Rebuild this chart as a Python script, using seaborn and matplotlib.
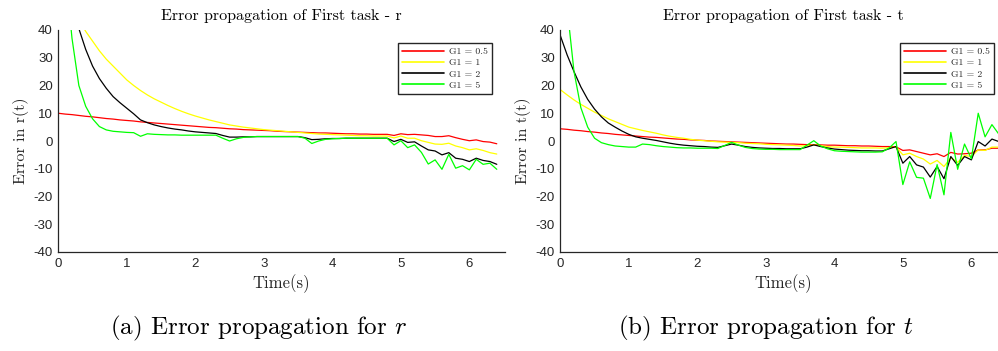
import numpy as np
import pandas as pd
import matplotlib
matplotlib.use("Agg")
import matplotlib.pyplot as plt
import seaborn as sns

# ---------------- data ----------------
time = [round(0.1 * i, 1) for i in range(65)]  # 0.0 ... 6.4 s
gains = ["G1 = 0.5", "G1 = 1", "G1 = 2", "G1 = 5"]
colors = ["#ff0000", "#ffff00", "#000000", "#00ff00"]

# panel (a): error in r(t)
r_g05 = [10.0, 9.7, 9.5, 9.2, 8.9, 8.7, 8.4, 8.1, 7.9, 7.6, 7.4, 7.2, 6.9, 6.7, 6.5, 6.3,
         6.1, 5.9, 5.7, 5.5, 5.3, 5.1, 4.9, 4.8, 4.6, 4.4, 4.3, 4.1, 4.0, 3.9, 3.8, 3.7,
         3.5, 3.4, 3.3, 3.2, 3.1, 3.0, 2.9, 2.9, 2.8, 2.7, 2.6, 2.6, 2.5, 2.5, 2.4, 2.4,
         2.4, 2.0, 2.6, 2.3, 2.4, 2.2, 2.0, 1.6, 1.6, 1.9, 1.2, 0.6, 0.1, 0.4, -0.2, -0.4, -1.0]
r_g1 = [59, 53, 48, 43.5, 39.5, 36, 32.5, 29.5, 27, 24.5, 22, 20, 18.2, 16.6, 15.2, 14,
        12.8, 11.7, 10.7, 9.8, 9.0, 8.3, 7.6, 7.0, 6.4, 5.8, 5.4, 5.0, 4.7, 4.4, 4.1, 3.9,
        3.7, 3.5, 3.3, 3.1, 2.9, 2.7, 2.5, 2.4, 2.3, 2.2, 2.1, 2.0, 1.9, 1.9, 1.8, 1.8,
        1.8, 1.1, 1.8, 1.0, 1.0, 0.1, -0.5, -1.1, -1.2, -0.8, -1.8, -2.4, -3.2, -2.8, -3.4, -4.2, -4.7]
r_g2 = [74, 60, 49, 40.5, 33, 27, 22.5, 19, 16, 13.8, 11.8, 9.8, 7.6, 6.6, 5.8, 5.2,
        4.7, 4.3, 4.0, 3.6, 3.3, 3.1, 2.9, 2.7, 2.0, 1.4, 1.4, 1.5, 1.5, 1.6, 1.6, 1.6,
        1.6, 1.6, 1.6, 1.6, 1.2, 0.5, 0.6, 0.8, 0.9, 0.9, 1.0, 1.0, 1.0, 1.0, 1.0, 1.0,
        1.0, -0.2, 0.6, -0.5, -0.3, -1.8, -3.2, -3.6, -5.0, -4.2, -6.2, -6.6, -7.4, -6.2, -7.0, -7.4, -8.4]
r_g5 = [85, 62, 37, 20, 12.5, 8.0, 5.2, 4.0, 3.5, 3.3, 3.1, 3.0, 1.7, 2.6, 2.4, 2.3,
        2.2, 2.2, 2.1, 2.1, 2.1, 2.1, 2.1, 2.1, 1.0, 0.0, 0.8, 1.3, 1.5, 1.6, 1.6, 1.6,
        1.6, 1.6, 1.6, 1.6, 1.0, -0.9, 0.0, 0.6, 0.8, 0.9, 1.0, 1.0, 1.0, 1.0, 1.0, 1.0,
        1.0, -1.4, 0.1, -2.4, -1.4, -4.1, -8.3, -6.8, -10.2, -4.8, -9.8, -8.9, -10.4, -6.6, -8.4, -8.0, -10.2]

# panel (b): error in t(t)
t_g05 = [4.4, 4.2, 3.9, 3.7, 3.4, 3.2, 2.9, 2.7, 2.4, 2.2, 2.0, 1.8, 1.6, 1.4, 1.3, 1.1,
         0.9, 0.7, 0.6, 0.4, 0.3, 0.2, 0.0, -0.1, -0.2, -0.3, -0.4, -0.5, -0.6, -0.7, -0.8, -0.9,
         -1.0, -1.1, -1.1, -1.2, -1.3, -1.3, -1.4, -1.5, -1.5, -1.6, -1.7, -1.7, -1.8, -1.8, -1.9, -2.0,
         -2.0, -2.1, -3.4, -3.2, -3.8, -4.4, -5.0, -4.6, -5.6, -4.1, -4.7, -4.6, -4.4, -3.2, -3.2, -2.6, -2.6]
t_g1 = [18.5, 16.6, 14.8, 13.2, 11.8, 10.4, 9.2, 8.0, 7.0, 6.0, 5.0, 4.4, 3.8, 3.3, 2.8, 2.2,
        1.7, 1.3, 1.0, 0.6, 0.3, 0.1, -0.1, -0.3, -0.4, -0.5, -0.6, -0.8, -0.9, -1.0, -1.2, -1.3,
        -1.4, -1.5, -1.6, -1.8, -1.7, -1.4, -1.7, -2.0, -2.2, -2.2, -2.3, -2.4, -2.5, -2.5, -2.5, -2.6,
        -2.4, -2.1, -5.0, -4.4, -5.6, -6.5, -8.3, -7.0, -9.2, -6.0, -7.7, -5.2, -5.6, -3.2, -3.4, -2.2, -2.2]
t_g2 = [38, 31, 25, 19.5, 15, 11.5, 8.7, 6.5, 5.0, 3.6, 2.4, 1.5, 1.0, 0.6, 0.2, -0.3,
        -0.8, -1.2, -1.5, -1.7, -1.9, -2.0, -2.2, -2.3, -1.7, -1.1, -1.5, -2.0, -2.3, -2.5, -2.6, -2.7,
        -2.7, -2.8, -2.8, -2.8, -2.2, -1.4, -2.0, -2.5, -2.9, -3.1, -3.3, -3.4, -3.5, -3.5, -3.6, -3.6,
        -2.8, -2.0, -8.0, -5.6, -8.6, -9.4, -13.0, -9.2, -13.6, -5.6, -8.8, -5.6, -6.8, -0.2, -1.8, 0.7, -0.2]
t_g5 = [70, 48, 25, 12, 5.0, 1.0, -0.6, -1.3, -1.8, -2.0, -2.2, -2.2, -1.1, -1.3, -1.7, -2.0,
        -2.2, -2.4, -2.5, -2.5, -2.6, -2.6, -2.6, -2.7, -1.6, -0.5, -1.5, -2.3, -2.7, -2.9, -3.0, -3.0,
        -3.1, -3.1, -3.1, -3.1, -1.5, 0.1, -1.8, -2.8, -3.5, -3.7, -3.8, -3.9, -4.0, -4.0, -4.0, -3.9,
        -2.5, -0.2, -15.7, -7.5, -13.1, -13.4, -20.7, -8.5, -19.4, 3.1, -10.2, -1.1, -6.4, 10.0, 1.5, 5.9, 2.5]

x_ticks = [0, 1, 2, 3, 4, 5, 6]
y_ticks = [-40, -30, -20, -10, 0, 10, 20, 30, 40]

panels = [
    ("Error propagation of First task - r", "Error in r(t)", [r_g05, r_g1, r_g2, r_g5],
     "(a) Error propagation for $r$"),
    ("Error propagation of First task - t", "Error in t(t)", [t_g05, t_g1, t_g2, t_g5],
     "(b) Error propagation for $t$"),
]

# ---------------- style ----------------
sns.set_theme(style="white")
plt.rcParams["font.family"] = ["Liberation Sans", "DejaVu Sans"]
plt.rcParams["mathtext.fontset"] = "cm"
plt.rcParams["axes.unicode_minus"] = False
SERIF = ["cmr10", "DejaVu Serif"]
AX_COL = "#262626"

W, H = 998, 351
fig = plt.figure(figsize=(W / 100, H / 100), dpi=100)

ax_w = 446.7 / W
ax_h = (252 - 30) / H
ax_b = (H - 252) / H
lefts = [58.3 / W, 560.3 / W]
cap_x = [259 / W, 766 / W]

palette = dict(zip(gains, colors))

for i, (title, ylab, series, caption) in enumerate(panels):
    ax = fig.add_axes([lefts[i], ax_b, ax_w, ax_h])
    df = pd.concat([
        pd.DataFrame({"Time": time, "Error": vals, "Gain": g})
        for g, vals in zip(gains, series)
    ], ignore_index=True)
    sns.lineplot(data=df, x="Time", y="Error", hue="Gain", hue_order=gains,
                 palette=palette, estimator=None, sort=False, linewidth=0.9, ax=ax)

    ax.set_xlim(0, 6.52)
    ax.set_ylim(-40, 40)
    ax.set_xticks(x_ticks)
    ax.set_yticks(y_ticks)
    ax.tick_params(direction="in", length=4, width=0.8, colors=AX_COL, labelsize=9.5,
                   pad=4)
    for side in ["top", "right"]:
        ax.spines[side].set_visible(False)
    for side in ["left", "bottom"]:
        ax.spines[side].set_color(AX_COL)
        ax.spines[side].set_linewidth(0.9)

    ax.set_title(title, family=SERIF, fontsize=11.5, color="black", pad=7)
    ax.set_xlabel("Time(s)", family=SERIF, fontsize=12, color=AX_COL)
    ax.set_ylabel(ylab, family=SERIF, fontsize=11.5, color=AX_COL)
    ax.xaxis.set_label_coords(0.5, -0.10)
    ax.yaxis.set_label_coords(-0.066, 0.5)

    handles, labels = ax.get_legend_handles_labels()
    leg = ax.legend(handles, labels, loc="upper right",
                    bbox_to_anchor=(1 - 13 / 446.7, 1 - 13 / 222),
                    borderaxespad=0, prop={"family": SERIF, "size": 7},
                    handlelength=4.3, handletextpad=0.5, labelspacing=0.25,
                    borderpad=0.45, fancybox=False, framealpha=1,
                    edgecolor=AX_COL)
    leg.get_frame().set_linewidth(1.0)
    for ln in leg.get_lines():
        ln.set_linewidth(1.2)

    fig.text(cap_x[i], (H - 328) / H, caption, family=SERIF, fontsize=18,
             ha="center", va="center", color="black")

fig.savefig("out.png", dpi=100)
